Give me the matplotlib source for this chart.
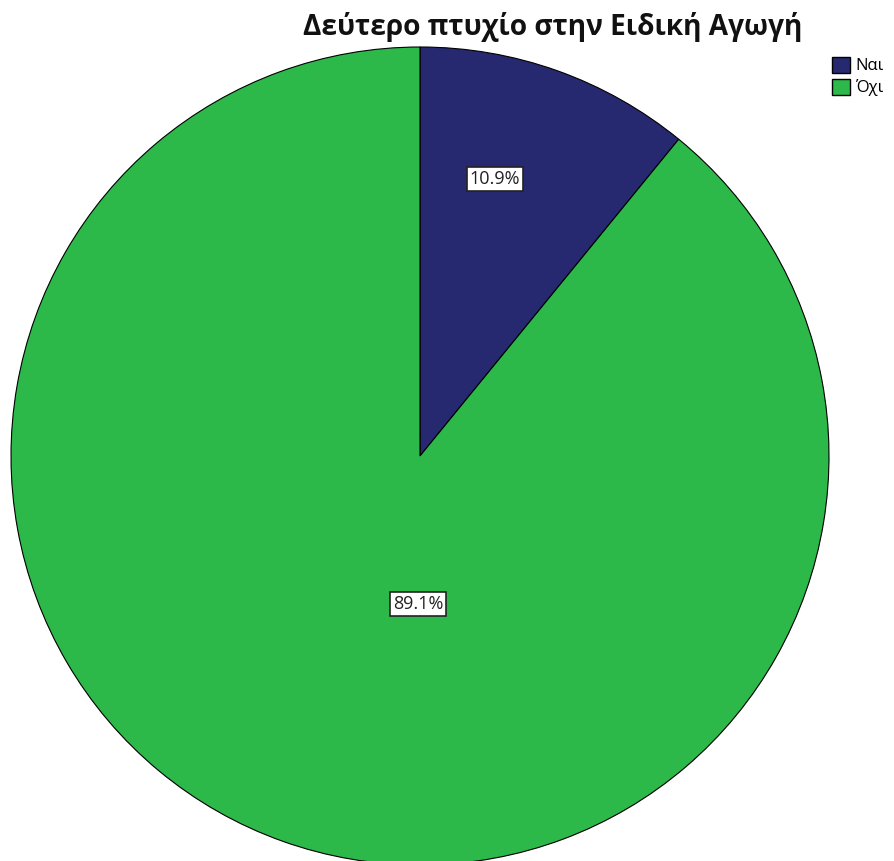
import matplotlib
matplotlib.use("Agg")
import matplotlib.pyplot as plt
from matplotlib.patches import Patch

plt.rcParams['font.family'] = ['Open Sans', 'DejaVu Sans']

title = "Δεύτερο πτυχίο στην Ειδική Αγωγή"
categories = ["Ναι", "Όχι"]
percentages = [10.9, 89.1]
colors = ["#262870", "#2db84a"]

W, H = 895, 861
fig = plt.figure(figsize=(W / 100, H / 100), dpi=100)

# pie centre and radius in pixels
cx, cy, r = 420, 456, 409
ax = fig.add_axes([(cx - r) / W, (H - cy - r) / H, 2 * r / W, 2 * r / H])
ax.set_aspect('equal')
ax.axis('off')

wedges, texts, autotexts = ax.pie(
    percentages, colors=colors, startangle=90, counterclock=False,
    radius=1.0, autopct='%1.1f%%',
    wedgeprops=dict(edgecolor='black', linewidth=0.8),
    textprops=dict(fontsize=13, color='#222222'),
)
ax.set_xlim(-1, 1)
ax.set_ylim(-1, 1)

label_pos = [(0.183, 0.677), (-0.005, -0.362)]
for t, pos in zip(autotexts, label_pos):
    t.set_position(pos)
    t.set_ha('center')
    t.set_va('center')
    t.set_bbox(dict(facecolor='white', edgecolor='#222222', linewidth=1.2,
                    boxstyle='square,pad=0.15'))

fig.text(553 / W, 1 - 27 / H, title, ha='center', va='center',
         fontsize=20.2, fontweight='bold', color='#111111')

handles = [Patch(facecolor=c, edgecolor='black', linewidth=1.0) for c in colors]
fig.legend(handles, categories, loc='upper left',
           bbox_to_anchor=(820 / W, 1 - 45 / H), frameon=False,
           fontsize=12, handlelength=1.1, handleheight=1.1,
           handletextpad=0.35, labelspacing=0.25, borderpad=0.2)

fig.savefig("out.png", dpi=100, facecolor='white')
